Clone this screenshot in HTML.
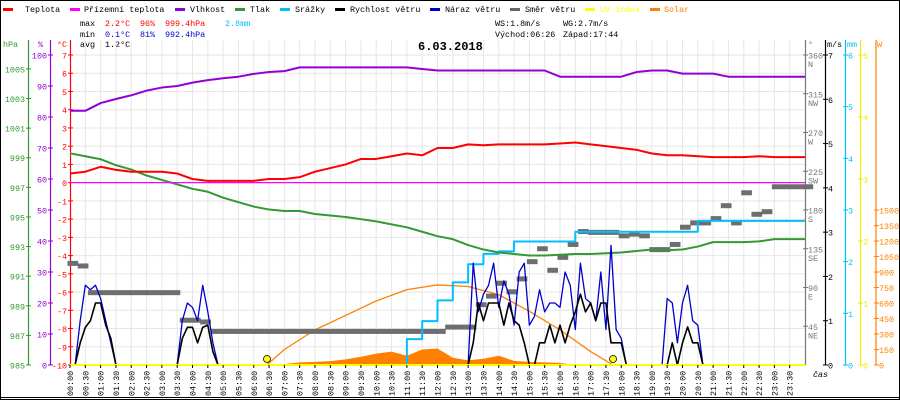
<!DOCTYPE html>
<html><head><meta charset="utf-8">
<style>
html,body{margin:0;padding:0;background:#fff;}
svg{display:block;font-family:"Liberation Mono",monospace;}
</style></head>
<body>
<svg id="chart" width="900" height="400" viewBox="0 0 900 400" xmlns="http://www.w3.org/2000/svg">
<rect x="0.5" y="0.5" width="899" height="399" fill="#fff" stroke="#000"/>
<g id="legend" font-size="8.4"></g>
<g font-size="8.4">
<text x="80" y="26" fill="#000">max</text>
<text x="105" y="26" fill="#f00">2.2°C</text>
<text x="140" y="26" fill="#f00">96%</text>
<text x="165" y="26" fill="#f00">999.4hPa</text>
<text x="225" y="26" fill="#00bfff">2.8mm</text>
<text x="80" y="37" fill="#000">min</text>
<text x="105" y="37" fill="#0000cc">0.1°C</text>
<text x="140" y="37" fill="#0000cc">81%</text>
<text x="165" y="37" fill="#0000cc">992.4hPa</text>
<text x="80" y="47" fill="#000">avg</text>
<text x="105" y="47" fill="#000">1.2°C</text>
<text x="495" y="26" fill="#000">WS:1.8m/s</text>
<text x="563" y="26" fill="#000">WG:2.7m/s</text>
<text x="495" y="37" fill="#000">Východ:06:26</text>
<text x="563" y="37" fill="#000">Západ:17:44</text>
</g>
<g id="grid"></g>
<text x="418" y="50" fill="#000" font-size="12" font-weight="bold">6.03.2018</text>
<g id="axes" font-size="8.4"></g>
<g id="series"></g>
<g id="xlabels" font-size="8.4"></g>
<line x1="0" y1="397.5" x2="900" y2="397.5" stroke="#000"/>
<text x="813" y="377" font-size="8.4" font-style="italic">čas</text>
</svg>
<script>
// ---- data ----
const halfHourTimes = Array.from({length:49},(_, i)=>i*0.5);
const temperature = [0.5,0.6,0.87,0.7,0.6,0.6,0.6,0.5,0.2,0.1,0.1,0.1,0.1,0.2,0.2,0.3,0.6,0.8,1.0,1.3,1.3,1.45,1.6,1.5,1.9,1.9,2.1,2.05,2.1,2.1,2.1,2.1,2.15,2.2,2.1,2.0,1.9,1.8,1.6,1.5,1.5,1.45,1.4,1.4,1.4,1.45,1.4,1.4,1.4];
const apparentTemp = [0,0,0,0,0,0,0,0,0,0,0,0,0,0,0,0,0,0,0,0,0,0,0,0,0,0,0,0,0,0,0,0,0,0,0,0,0,0,0,0,0,0,0,0,0,0,0,0,0];
const humidity = [82,82,84.5,85.8,87,88.5,89.5,90,91.1,91.9,92.5,93,93.9,94.5,94.8,96,96,96,96,96,96,96,96,95.5,95,95,95,95,95,95,95,95,93,93,93,93,93,94.5,95,95,94,94,94,93,93,93,93,93,93];
const pressure = [999.3,999.1,998.9,998.5,998.2,997.8,997.5,997.2,996.9,996.7,996.3,996.0,995.7,995.5,995.4,995.4,995.2,995.1,995.0,994.85,994.7,994.5,994.3,994.0,993.7,993.5,993.1,992.8,992.6,992.5,992.4,992.4,992.45,992.5,992.5,992.55,992.6,992.7,992.8,992.75,992.8,993.0,993.3,993.3,993.3,993.35,993.5,993.5,993.5];
const rain = [0,0,0,0,0,0,0,0,0,0,0,0,0,0,0,0,0,0,0,0,0,0,0.5,0.85,1.25,1.6,1.95,2.15,2.2,2.39,2.39,2.39,2.39,2.58,2.58,2.58,2.58,2.58,2.58,2.58,2.58,2.79,2.79,2.79,2.79,2.79,2.79,2.79,2.79];
const windSpeed = [0,0,0.5,0.85,1.0,1.4, 1.4,0.9,0.6,0,0,0, 0,0,0,0,0,0, 0,0,0,0,0.6,0.85, 0.85,0.5,0.85,0.9,0.3,0,
 0,0,0,0,0,0, 0,0,0,0,0,0, 0,0,0,0,0,0, 0,0,0,0,0,0, 0,0,0,0,0,0, 0,0,0,0,0,0, 0,0,0,0,0,0, 0,0,0,0,0,0,
 0,0.5,1.4,1.0,1.4,1.4, 1.4,0.9,1.4,1.0,0.9,0.5, 0,0,0.5,0.5,0.9,0.5, 0.9,0.5,0.9,1.2,1.6,1.2, 1.4,1.0,1.4,1.4,0.5,0.5,
 0.5,0,0,0,0,0, 0,0,0,0,0.5,0, 0.5,0.86,0.5,0.5,0,0, 0,0,0,0,0,0, 0,0,0,0,0,0, 0,0,0,0,0,0, 0];
const windGust = [0,0,1.0,1.8,1.7,1.8, 1.5,1.0,0.5,0,0,0, 0,0,0,0,0,0, 0,0,0,0,1.0,1.4, 1.3,1.0,1.8,1.2,0.5,0,
 0,0,0,0,0,0, 0,0,0,0,0,0, 0,0,0,0,0,0, 0,0,0,0,0,0, 0,0,0,0,0,0, 0,0,0,0,0,0, 0,0,0,0,0,0, 0,0,0,0,0,0,
 0,2.3,1.2,1.6,1.8,2.3, 1.3,1.9,1.6,0.9,2.1,2.3, 0.9,1.1,1.7,1.2,1.4,1.4, 1.3,2.1,1.8,0.8,2.3,1.5, 1.4,1.0,2.1,0.8,2.7,0.8,
 0.6,0,0,0,0,0, 0,0,0,1.5,1.4,0.5, 1.4,1.8,1.0,0.9,0,0, 0,0,0,0,0,0, 0,0,0,0,0,0, 0,0,0,0,0,0, 0];
const windDirection = [118,115,84,84,84,84,84,84,84,84,84,52,52,50,
 39,39,39,39,39,39,39,39,39,39,39,39,39,39,39,39,39,39,39,39,39,39,39,
 44,44,44,70,80,95,85,100,120,135,110,125,140,155,154,154,154,150,152,150,134,134,140,160,165,165,170,185,165,200,175,178,207,207,207,207];
const solarCurveTimes = [6.43,7,8,9,10,11,12,13,14,15,16,17,17.73];
const solarCurve = [0,150,340,480,620,730,775,760,680,520,340,130,0];
const solarMeasuredTimes = [6.5,7,7.5,8,8.5,9,9.5,10,10.5,11,11.5,12,12.5,13,13.5,14,14.5,15,15.5,16,16.5];
const solarMeasured = [0,10,25,30,38,55,80,110,130,90,150,160,70,45,60,90,40,30,25,20,0];
const uvIndex = [0,0];
const sunTimes = [6.433,17.733];
const tempTicks = [7,6,5,4,3,2,1,0,-1,-2,-3,-4,-5,-6,-7,-8,-9,-10];
const humTicks = [100,90,80,70,60,50,40,30,20,10,0];
const presTicks = [1005,1003,1001,999,997,995,993,991,989,987,985];
const dirTicks = [360,315,270,225,180,135,90,45];
const dirNames = ["N","NW","W","SW","S","SE","E","NE"];
const msTicks = [7,6,5,4,3,2,1,0];
const mmTicks = [6,5,4,3,2,1,0];
const uvTicks = [5,4,3,2,1,0];
const wTicks = [1500,1350,1200,1050,900,750,600,450,300,150,0];

// ---- scales ----
const X0=70, X1=805, YT=55, YB=365;
const xT = t => X0 + t/24*(X1-X0);
const yC = v => YB - (v+10)/17*(YB-YT);
const yH = v => YB - v/100*(YB-YT);
const yP = v => YB - (v-985)/(1005.94-985)*(YB-YT);
const yMs = v => YB - v/7*(YB-YT);
const yMm = v => YB - v/6*(YB-YT);
const yUv = v => YB - v/5*(YB-YT);
const yW = v => YB - v*0.1033;
const yDir = v => YB - v/360*(YB-YT);
const NS="http://www.w3.org/2000/svg";
function mk(tag, attrs, parent){const e=document.createElementNS(NS,tag);for(const k in attrs)e.setAttribute(k,attrs[k]);parent.appendChild(e);return e;}

// ---- legend ----
const legend=document.getElementById('legend');
const legendItems=[["Teplota","#f00",3,25],["Přízemní teplota","#f0f",70,84],["Vlhkost","#9400d3",175,190],["Tlak","#339933",235,250],["Srážky","#00bfff",280,295],["Rychlost větru","#000",335,350],["Náraz větru","#0000cc",430,445],["Směr větru","#666",510,525],["UV index","#ff0",585,600],["Solar","#ff8000",650,664]];
legendItems.forEach(it=>{
  const l=mk('rect',{x:it[2],y:8,width:10,height:3,fill:it[1]},legend);
  
  
  const t=mk('text',{x:it[3],y:12,fill:(it[0]==="UV index"||it[0]==="Solar")?it[1]:"#000"},legend);
  t.textContent=it[0];
  
  
});

// ---- grid ----
const grid=document.getElementById('grid');
tempTicks.forEach(v=>{
  const g=mk('line',{x1:X0,x2:X1,y1:yC(v),y2:yC(v),stroke:"#e6e6e6"},grid);
  
  
});
halfHourTimes.forEach(t=>{
  if(t===0||t===24)return;
  const g=mk('line',{x1:xT(t),x2:xT(t),y1:40,y2:YB,stroke:"#e6e6e6"},grid);
  
  
});

// ---- axes ----
const axes=document.getElementById('axes');
function axis(x,color,ticks,scale,name,side){
  const a=mk('line',{x1:x+0.5,x2:x+0.5,y1:40,y2:YB,stroke:color,"stroke-width":1.2},axes);
  
  
  ticks.forEach(v=>{
    const y=scale(v);
    mk('line',{x1:x-2,x2:x+3,y1:y,y2:y,stroke:color},axes);
    const t=mk('text',{x:side<0?x-3:x+3,y:y+3.5,fill:color,"text-anchor":side<0?"end":"start"},axes);
    t.textContent=v;
    
    
  });
}
axis(28,"#339933",presTicks,yP,"pressure",-1);
axis(50,"#9400d3",humTicks,yH,"humidity",-1);
axis(70,"#f00",tempTicks,yC,"temperature",-1);
axis(805,"#777",dirTicks,yDir,"direction",1);
axis(825,"#000",msTicks,yMs,"wind",1);
axis(845,"#00bfff",mmTicks,yMm,"rain",1);
axis(860,"#ee0",uvTicks,yUv,"uv",1);
const wAx=mk('line',{x1:876,x2:876,y1:40,y2:YB,stroke:"#ff8000","stroke-width":1.2},axes);


wTicks.forEach(v=>{const y=yW(v);mk('line',{x1:874,x2:879,y1:y,y2:y,stroke:"#ff8000"},axes);
  const t=mk('text',{x:879,y:y+3.5,fill:"#ff8000"},axes);t.textContent=v;
  
  });
dirTicks.forEach((v,i)=>{const t=mk('text',{x:808,y:yDir(v)+12,fill:"#777"},axes);t.textContent=dirNames[i];
  
  });
[["hPa",3,"#339933"],["%",38,"#9400d3"],["°C",57,"#f00"],["°",808,"#777"],["m/s",827,"#000"],["mm",847,"#00bfff"],["W",877,"#ff8000"]].forEach(u=>{
  const t=mk('text',{x:u[1],y:47,fill:u[2]},axes);t.textContent=u[0];
  
  });

// ---- series ----
const S=document.getElementById('series');
function poly(xs,ys,color,w,name){
  const p=mk('polyline',{points:xs.map((x,i)=>x+","+ys[i]).join(" "),fill:"none",stroke:color,"stroke-width":w,"stroke-linejoin":"round"},S);
  
  
  return p;
}
{
  let pts=solarMeasuredTimes.map((t,i)=>xT(t)+","+yW(solarMeasured[i]));
  pts.push(xT(solarMeasuredTimes[solarMeasuredTimes.length-1])+","+YB);
  pts.push(xT(solarMeasuredTimes[0])+","+YB);
  const a=mk('polygon',{points:pts.join(" "),fill:"#ff8000"},S);
  
  
}
poly(solarCurveTimes.map(xT),solarCurve.map(yW),"#ff8000",1.3,"solar-theoretical-line");
const step10=1/6, dirStep=1/3;
windDirection.forEach((d,i)=>{
  const r=mk('rect',{x:xT(i*dirStep)-2.5,y:yDir(d)-2.5,width:(X1-X0)/72+0.5,height:5,fill:"#6e6e6e"},S);
  
  
});
{
  const xs=[],ys=[];
  rain.forEach((v,i)=>{ if(i>0){xs.push(xT(halfHourTimes[i]));ys.push(yMm(rain[i-1]));} xs.push(xT(halfHourTimes[i]));ys.push(yMm(v)); });
  poly(xs,ys,"#00bfff",2,"rain-line");
}
poly(halfHourTimes.map(xT),pressure.map(yP),"#339933",2,"pressure-line");
poly(halfHourTimes.map(xT),humidity.map(yH),"#9400d3",2,"humidity-line");
poly(halfHourTimes.map(xT),apparentTemp.map(yC),"#f0f",1.3,"apparent-temperature-line");
poly(halfHourTimes.map(xT),temperature.map(yC),"#f00",2,"temperature-line");
const windTimes=windGust.map((_, i)=>i*step10);
poly(windTimes.map(xT),windGust.map(yMs),"#0000cc",1.3,"wind-gust-line");
poly(windTimes.map(xT),windSpeed.map(yMs),"#000",1.6,"wind-speed-line");
poly([X0,X1],uvIndex.map(yUv),"#ff0",2,"uv-index-line");
sunTimes.forEach((t,i)=>{
  const c=mk('circle',{cx:xT(t),cy:359,r:3.5,fill:"#ff0",stroke:"#000","stroke-width":0.8},S);
  
  
});

// ---- x labels ----
const XL=document.getElementById('xlabels');
halfHourTimes.forEach(t=>{
  if(t>=24)return;
  const h=Math.floor(t), m=t%1?"30":"00";
  const lab=(h<10?"0":"")+h+":"+m;
  const x=xT(t)+3;
  mk('line',{x1:xT(t),x2:xT(t),y1:YB,y2:YB+3,stroke:"#000"},XL);
  const tx=mk('text',{x:0,y:0,transform:"translate("+x+",396) rotate(-90)"},XL);
  tx.textContent=lab;
  
  
});
</script>
</body></html>
